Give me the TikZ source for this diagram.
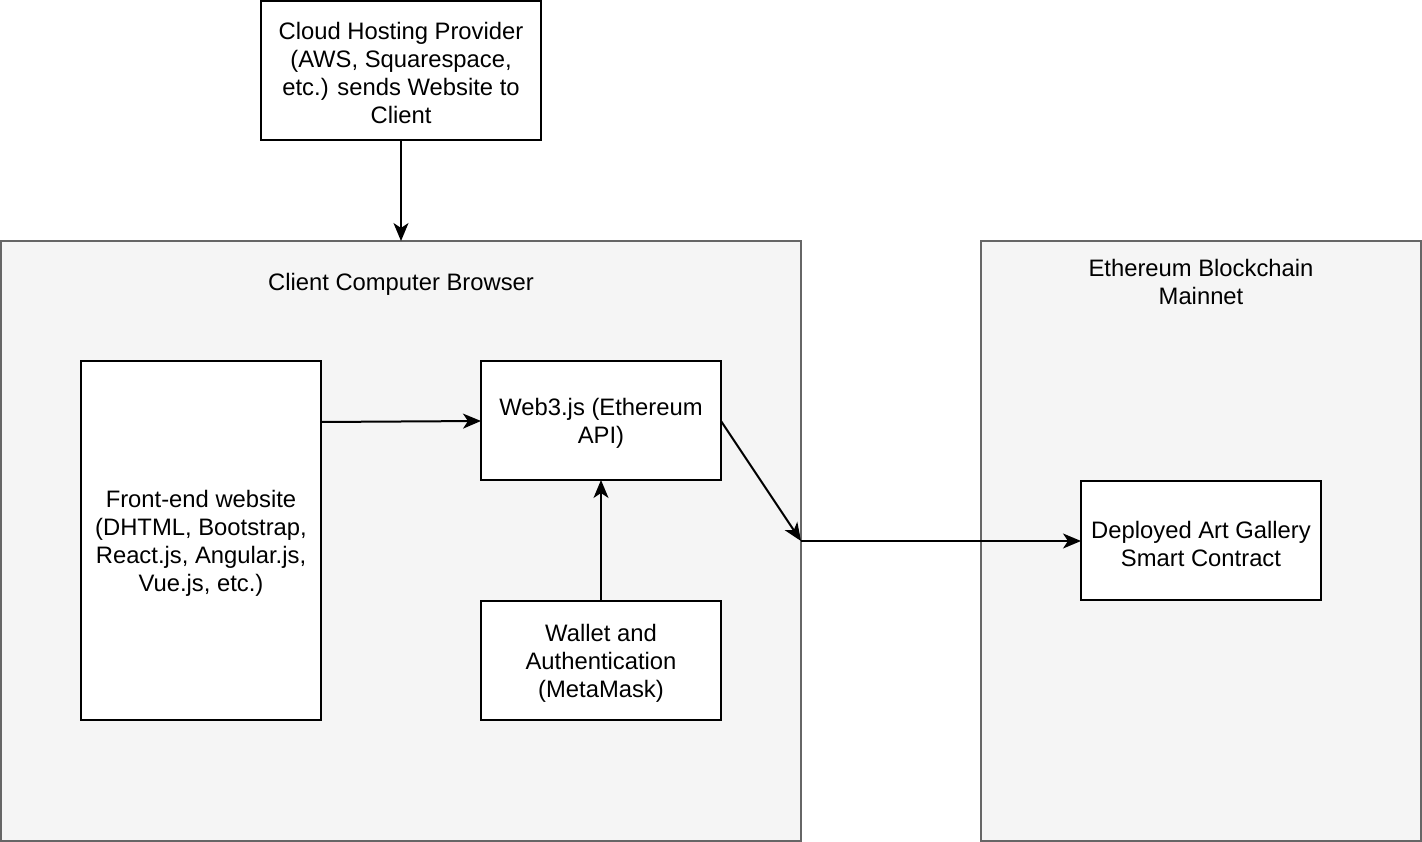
\documentclass[tikz,border=0pt]{standalone}
\usepackage{fontspec}
\setmainfont{Liberation Sans}
\usetikzlibrary{arrows.meta}
\definecolor{contfill}{HTML}{F5F5F5}
\definecolor{contdraw}{HTML}{666666}
\begin{document}
\begin{tikzpicture}[x=1pt,y=-1pt,
  every node/.style={font=\fontsize{23.8}{28}\selectfont},
  container/.style={draw=contdraw,fill=contfill,line width=2pt},
  box/.style={draw=black,fill=white,line width=2pt},
  lbl/.style={align=center,inner sep=0pt},
  conn/.style={line width=2pt,-{Stealth[length=18pt,width=15pt,inset=5pt]}}
]
\useasboundingbox (0,0) rectangle (1422,842);
\fill[white] (0,0) rectangle (1422,842);
% containers
\draw[container] (1,241) rectangle (801,841);
\draw[container] (981,241) rectangle (1421,841);
\node[lbl] (clienttitle) at (401,284.5) {Client Computer Browser};
\node[lbl] (ethtitle) at (1201,282) {Ethereum Blockchain\\Mainnet};
% boxes
\draw[box] (261,1) rectangle (541,140);
\node[lbl] (cloud) at (401,73) {Cloud Hosting Provider\\(AWS, Squarespace,\\etc.) sends Website to\\Client};
\coordinate (cloudb) at (401,140);
\coordinate (clientt) at (401,241);

\draw[box] (81,361) rectangle (321,720);
\node[lbl] (front) at (201,543.5) {Front-end website\\(DHTML, Bootstrap,\\React.js, Angular.js,\\Vue.js, etc.)};
\coordinate (frontr) at (321,422);

\draw[box] (481,361) rectangle (721,480);
\node[lbl] (web3) at (601,423.5) {Web3.js (Ethereum\\API)};
\coordinate (web3l) at (481,421);
\coordinate (web3r) at (721,421);
\coordinate (web3b) at (601,480);

\draw[box] (481,601) rectangle (721,720);
\node[lbl] (wallet) at (601,663.5) {Wallet and\\Authentication\\(MetaMask)};
\coordinate (wallett) at (601,601);

\draw[box] (1081,481) rectangle (1321,600);
\node[lbl] (deployed) at (1201,543.5) {Deployed Art Gallery\\Smart Contract};
\coordinate (deployedl) at (1081,541);
\coordinate (clientr) at (801,541);

% connectors
\draw[conn] (cloudb) -- (clientt);
\draw[conn] (frontr) -- (web3l);
\draw[conn] (wallett) -- (web3b);
\draw[conn] (web3r) -- (clientr);
\draw[conn] (clientr) -- (deployedl);
\end{tikzpicture}
\end{document}
